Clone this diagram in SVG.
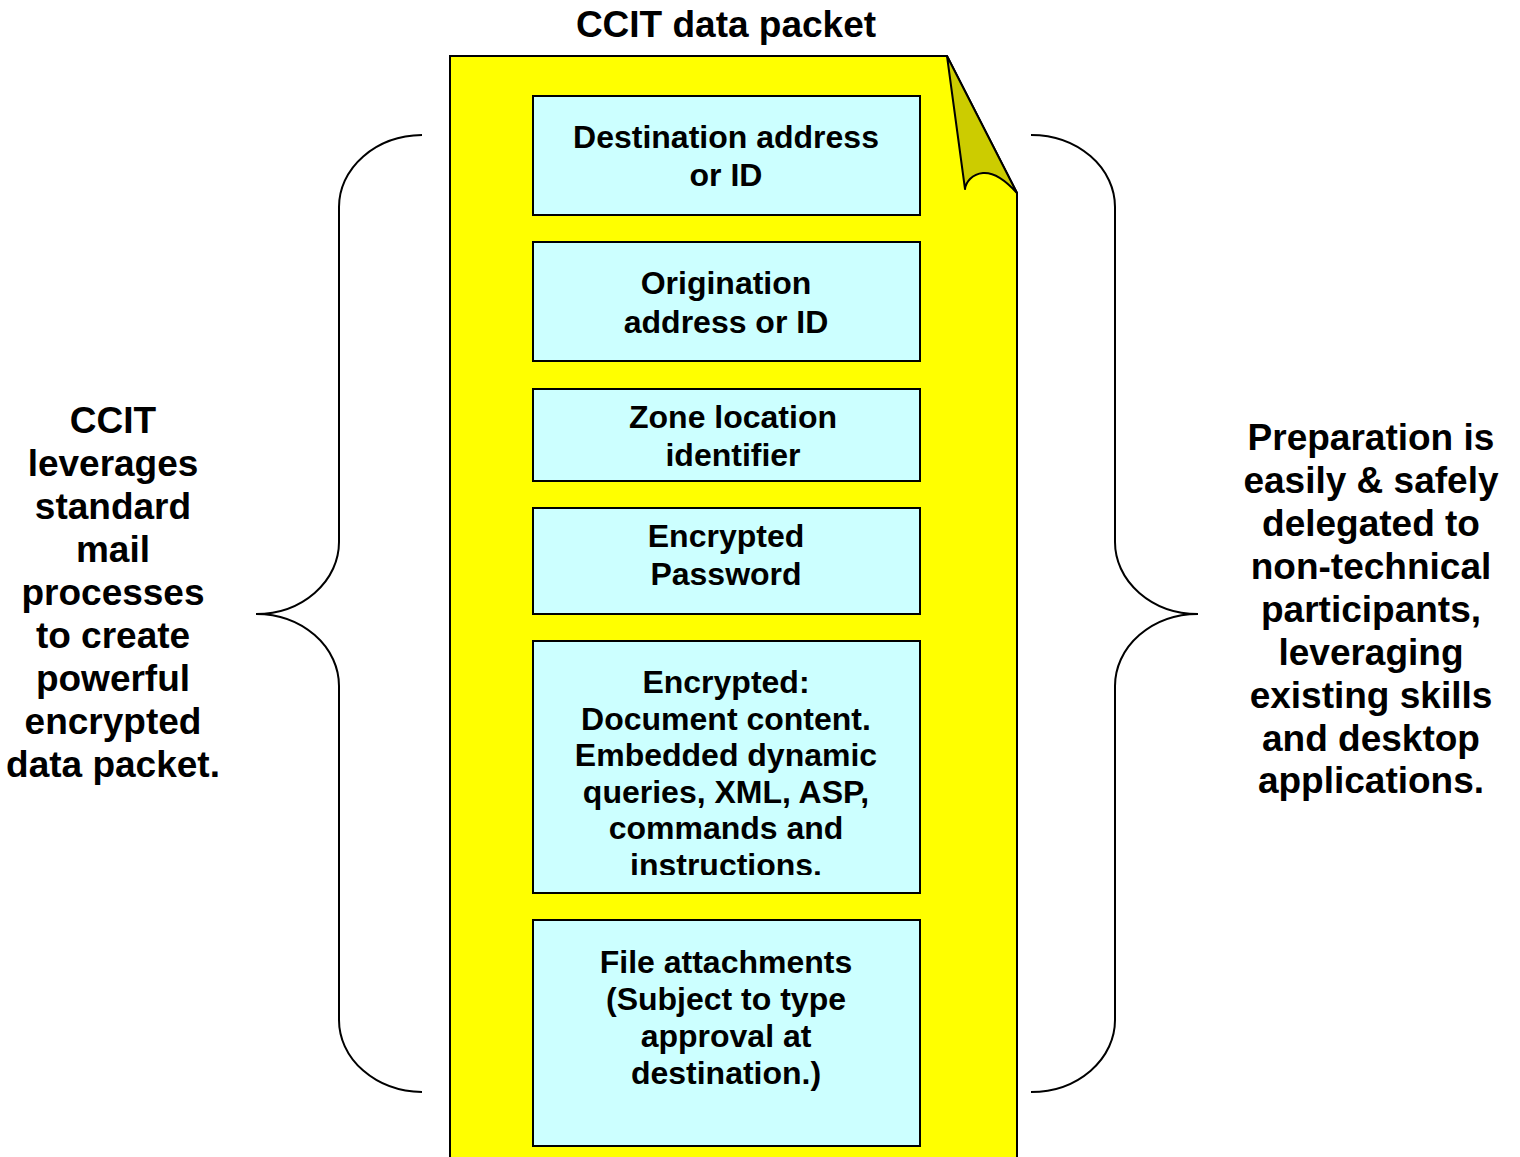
<svg xmlns="http://www.w3.org/2000/svg" width="1520" height="1157" viewBox="0 0 1520 1157">
<style>
.t{font-family:"Liberation Sans",Arial,sans-serif;font-weight:bold;fill:#000;text-anchor:middle}
.big{font-size:37px}
.sm{font-size:32px}
.box{fill:#CCFFFF;stroke:#000;stroke-width:2}
.brace{fill:none;stroke:#000;stroke-width:2}
</style>
<defs>
<clipPath id="c5"><rect x="534" y="642" width="386" height="233"/></clipPath>
</defs>
<rect width="1520" height="1157" fill="#fff"/>
<text class="t big" x="726" y="37">CCIT data packet</text>
<g id="page">
<path d="M450,1162 L450,56 L947,56 L1017,193 L1017,1162 Z" fill="#FFFF00" stroke="#000" stroke-width="2"/>
<path d="M947,56 L1017,193 C1008,183 995,172 983,173 C972,174 966,182 965,189 Z" fill="#CCCC00" stroke="#000" stroke-width="2" stroke-linejoin="round"/>
</g>
<g id="box1"><rect class="box" x="533" y="96" width="387" height="119"/>
<text class="t sm" x="726" y="148">Destination address</text><text class="t sm" x="726" y="186">or ID</text></g>
<g id="box2"><rect class="box" x="533" y="242" width="387" height="119"/>
<text class="t sm" x="726" y="294">Origination</text><text class="t sm" x="726" y="333">address or ID</text></g>
<g id="box3"><rect class="box" x="533" y="389" width="387" height="92"/>
<text class="t sm" x="733" y="428">Zone location</text><text class="t sm" x="733" y="466">identifier</text></g>
<g id="box4"><rect class="box" x="533" y="508" width="387" height="106"/>
<text class="t sm" x="726" y="547">Encrypted</text><text class="t sm" x="726" y="585">Password</text></g>
<g id="box5"><rect class="box" x="533" y="641" width="387" height="252"/>
<g clip-path="url(#c5)">
<text class="t sm" x="726" y="693">Encrypted:</text>
<text class="t sm" x="726" y="729.5">Document content.</text>
<text class="t sm" x="726" y="766">Embedded dynamic</text>
<text class="t sm" x="726" y="802.5">queries, XML, ASP,</text>
<text class="t sm" x="726" y="839">commands and</text>
<text class="t sm" x="726" y="875.5">instructions.</text>
</g></g>
<g id="box6"><rect class="box" x="533" y="920" width="387" height="226"/>
<text class="t sm" x="726" y="973">File attachments</text>
<text class="t sm" x="726" y="1010">(Subject to type</text>
<text class="t sm" x="726" y="1047">approval at</text>
<text class="t sm" x="726" y="1084">destination.)</text></g>
<g id="connectors">
<path class="brace" d="M422,135 A84,72 0 0 0 339,207 L339,542 A83,72 0 0 1 256,614 A83,72 0 0 1 339,686 L339,1020 A84,72 0 0 0 422,1092"/>
<path class="brace" d="M1031,135 A84,72 0 0 1 1115,207 L1115,542 A83,72 0 0 0 1198,614 A83,72 0 0 0 1115,686 L1115,1020 A84,72 0 0 1 1031,1092"/>
</g>
<g id="left-label">
<text class="t big" x="113" y="433">CCIT</text>
<text class="t big" x="113" y="476">leverages</text>
<text class="t big" x="113" y="519">standard</text>
<text class="t big" x="113" y="562">mail</text>
<text class="t big" x="113" y="605">processes</text>
<text class="t big" x="113" y="648">to create</text>
<text class="t big" x="113" y="691">powerful</text>
<text class="t big" x="113" y="734">encrypted</text>
<text class="t big" x="113" y="777">data packet.</text>
</g>
<g id="right-label">
<text class="t big" x="1371" y="450">Preparation is</text>
<text class="t big" x="1371" y="493">easily &amp; safely</text>
<text class="t big" x="1371" y="536">delegated to</text>
<text class="t big" x="1371" y="579">non-technical</text>
<text class="t big" x="1371" y="622">participants,</text>
<text class="t big" x="1371" y="665">leveraging</text>
<text class="t big" x="1371" y="708">existing skills</text>
<text class="t big" x="1371" y="751">and desktop</text>
<text class="t big" x="1371" y="793">applications.</text>
</g>
</svg>
